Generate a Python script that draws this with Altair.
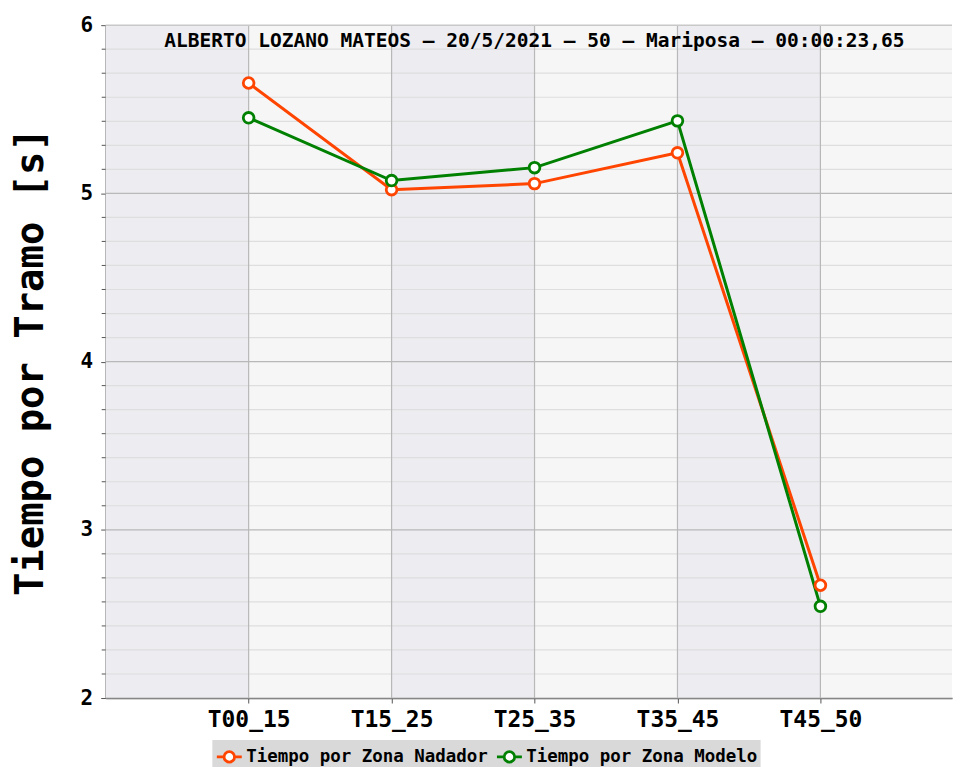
import altair as alt
import pandas as pd

categories = ["T00_15", "T15_25", "T25_35", "T35_45", "T45_50"]
nadador = [5.656, 5.022, 5.058, 5.241, 2.670]
modelo = [5.449, 5.076, 5.153, 5.431, 2.545]
series_names = ["Tiempo por Zona Nadador", "Tiempo por Zona Modelo"]
series_colors = ["#ff4500", "#008000"]
title_text = "ALBERTO LOZANO MATEOS – 20/5/2021 – 50 – Mariposa – 00:00:23,65"
y_major = [2, 3, 4, 5, 6]

FONT = "DejaVu Sans Mono"
W, H = 849, 675
STEP = 143.4
XMAX = W / STEP

idx = list(range(1, len(categories) + 1))
rows = []
for i, c in enumerate(categories):
    rows.append({"i": idx[i], "cat": c, "serie": series_names[0], "v": nadador[i]})
    rows.append({"i": idx[i], "cat": c, "serie": series_names[1], "v": modelo[i]})
df = pd.DataFrame(rows)

# alternating column bands
band_start = list(range(0, len(categories) + 1))
bands = pd.DataFrame({
    "a": band_start,
    "b": [min(s + 1, XMAX) for s in band_start],
    "c": ["#ececf1" if s % 2 == 0 else "#f6f6f6" for s in band_start],
})

minor = [m + k / 7 for m in y_major[:-1] for k in range(1, 7)]

xscale = alt.Scale(domain=[0, XMAX], nice=False, zero=False)
yscale = alt.Scale(domain=[2, 6], nice=False, zero=False)

label_expr = "[" + ",".join("'" + c + "'" for c in [""] + categories + [""]) + "][datum.value]"

xaxis = alt.Axis(values=idx, labelExpr=label_expr, grid=False, title=None,
                 labelFont=FONT, labelFontSize=23, labelFontWeight="bold", labelColor="black",
                 domainColor="#555555", tickColor="#555555", tickSize=5, labelPadding=6,
                 domainWidth=1.5)
yaxis = alt.Axis(values=y_major, format="d", grid=False, title="Tiempo por Tramo [s]",
                 labelFont=FONT, labelFontSize=21, labelFontWeight="bold", labelColor="black",
                 titleFont=FONT, titleFontSize=39, titleFontWeight="bold", titleColor="black",
                 domainColor="#555555", tickColor="#555555", tickSize=5, labelPadding=8,
                 titlePadding=30, domainWidth=1.5)

band_layer = alt.Chart(bands).mark_rect().encode(
    x=alt.X("a:Q", scale=xscale, axis=xaxis),
    x2="b:Q",
    y=alt.Y("y0:Q", scale=yscale, axis=yaxis),
    y2="y1:Q",
    color=alt.Color("c:N", scale=None),
).transform_calculate(y0="2", y1="6")

minor_layer = alt.Chart(pd.DataFrame({"m": minor})).mark_rule(color="#dedede", strokeWidth=1.2).encode(
    y=alt.Y("m:Q", scale=yscale), x=alt.value(0), x2=alt.value(W)
)
minor_ticks = alt.Chart(pd.DataFrame({"m": minor})).mark_rule(color="#555555", strokeWidth=1).encode(
    y=alt.Y("m:Q", scale=yscale), x=alt.value(-4), x2=alt.value(0)
)
major_layer = alt.Chart(pd.DataFrame({"m": y_major[:-1]})).mark_rule(color="#b8b8b8", strokeWidth=1.2).encode(
    y=alt.Y("m:Q", scale=yscale), x=alt.value(0), x2=alt.value(W)
)
vert_layer = alt.Chart(pd.DataFrame({"i": idx})).mark_rule(color="#b8b8b8", strokeWidth=1.2).encode(
    x=alt.X("i:Q", scale=xscale), y=alt.value(0), y2=alt.value(H)
)
top_border = alt.Chart(pd.DataFrame({"m": [6]})).mark_rule(color="#c8c8c8", strokeWidth=1.5).encode(
    y=alt.Y("m:Q", scale=yscale), x=alt.value(0), x2=alt.value(W)
)

title_layer = alt.Chart(pd.DataFrame({"t": [title_text]})).mark_text(
    font=FONT, fontSize=19.6, fontWeight="bold", color="black", baseline="middle", align="center"
).encode(text="t:N", x=alt.value(430), y=alt.value(16))

color = alt.Color("serie:N",
                  scale=alt.Scale(domain=series_names, range=series_colors),
                  legend=alt.Legend(
                      title=None, orient="none", legendX=107, legendY=717, direction="horizontal",
                      fillColor="#d9d9d9", padding=3, columnPadding=2, labelLimit=0,
                      labelFont=FONT, labelFontSize=17.5, labelFontWeight="bold", labelColor="black",
                      symbolType="M-1,0H-0.42M0.42,0H1M0.42,0A0.42,0.42,0,1,1,-0.42,0A0.42,0.42,0,1,1,0.42,0",
                      symbolSize=625, symbolStrokeWidth=2.8, symbolFillColor="white", labelOffset=3,
                  ))

line_layer = alt.Chart(df).mark_line(strokeWidth=3).encode(
    x=alt.X("i:Q", scale=xscale), y=alt.Y("v:Q", scale=yscale), color=color, detail="serie:N"
)
point_layer = alt.Chart(df).mark_point(filled=False, fill="white", fillOpacity=1, opacity=1,
                                       size=115, strokeWidth=2.8).encode(
    x=alt.X("i:Q", scale=xscale), y=alt.Y("v:Q", scale=yscale), color=color
)

chart = alt.layer(
    band_layer, minor_layer, major_layer, vert_layer, top_border, minor_ticks,
    title_layer, line_layer, point_layer
).properties(
    width=W, height=H, background="white",
    padding={"left": 3, "top": 5, "right": 0, "bottom": 0}
).configure_view(stroke=None)

chart.save("out.html", embed_options={"renderer": "svg", "actions": False})
